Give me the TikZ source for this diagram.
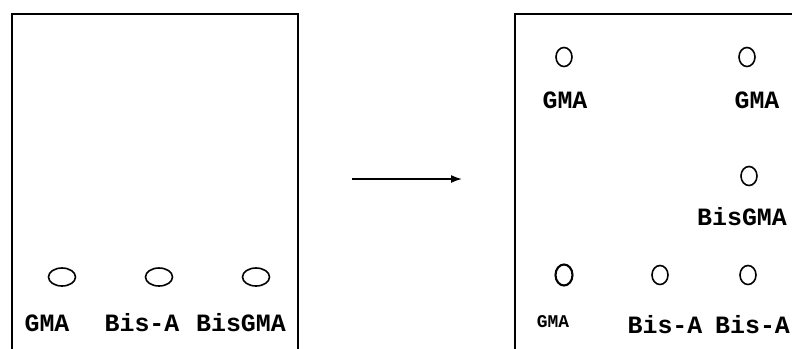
\documentclass[tikz,border=0pt]{standalone}
\usepackage{fontspec}
\setmonofont{Liberation Mono}
\usetikzlibrary{shapes.geometric,arrows.meta}
\tikzset{
  plate/.style={line width=1.6bp, line cap=rect},
  lens/.style={draw, ellipse, line width=1.6bp, inner sep=0pt, minimum width=27bp, minimum height=18bp},
  spot/.style={draw, ellipse, line width=1.6bp, inner sep=0pt, minimum width=16bp, minimum height=19bp},
  bigspot/.style={draw, ellipse, line width=2.1bp, inner sep=0pt, minimum width=17bp, minimum height=21bp},
  lbl/.style={inner sep=0pt, font=\ttfamily\bfseries\fontsize{25}{25}\selectfont},
  smalllbl/.style={inner sep=0pt, font=\ttfamily\bfseries\fontsize{18}{18}\selectfont},
}
\begin{document}
\begin{tikzpicture}[x=1bp, y=-1bp]
\useasboundingbox (0,0) rectangle (792,348);
% left plate
\coordinate (L1) at (12,348);
\coordinate (L2) at (12,14);
\coordinate (L3) at (298,14);
\coordinate (L4) at (298,348);
\draw[plate] (L1) -- (L2) -- (L3) -- (L4);
\node[lens] (a1) at (62,277) {};
\node[lens] (a2) at (159,277) {};
\node[lens] (a3) at (256,277) {};
\node[lbl] (t1) at (47,323) {GMA};
\node[lbl] (t2) at (142,323) {Bis-A};
\node[lbl] (t3) at (241,323) {BisGMA};
% arrow
\coordinate (p) at (352,179);
\coordinate (q) at (462,179);
\draw[line width=1.6bp, -{Latex[length=11bp,width=8bp]}] (p) -- (q);
% right plate
\coordinate (R1) at (515,348);
\coordinate (R2) at (515,14);
\coordinate (R3) at (792,14);
\draw[plate] (R1) -- (R2) -- (R3);
\node[spot] (b1) at (564,57) {};
\node[lbl] (u1) at (565,100) {GMA};
\node[spot] (b2) at (747,57) {};
\node[lbl] (u2) at (757,100) {GMA};
\node[spot] (b3) at (749,176) {};
\node[lbl] (u3) at (742,217) {BisGMA};
\node[bigspot] (b4) at (564,275) {};
\node[smalllbl] (u4) at (553,322) {GMA};
\node[spot] (b5) at (660,275) {};
\node[lbl] (u5) at (665,325) {Bis-A};
\node[spot] (b6) at (748,275) {};
\node[lbl, anchor=west] (u6) at (715,325) {Bis-A};
\end{tikzpicture}
\end{document}
